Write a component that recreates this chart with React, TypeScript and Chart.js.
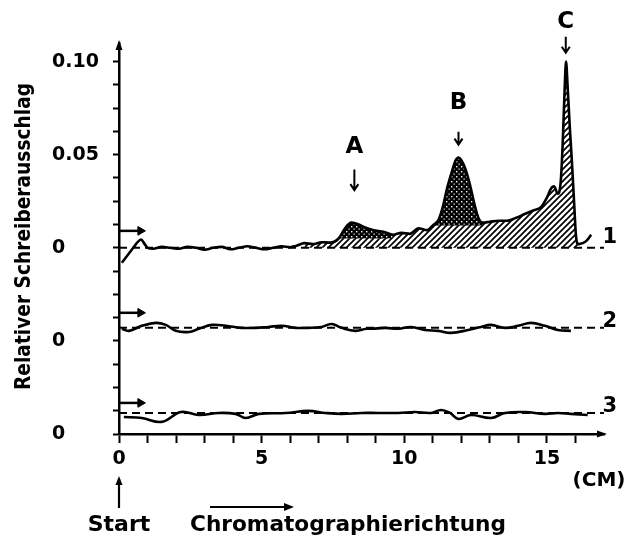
import React, { useEffect, useRef } from 'react';
import { Chart, registerables } from 'chart.js';

Chart.register(...registerables);

const FONT = '"DejaVu Sans", "Liberation Sans", sans-serif';

// Trace 1: sample scan (cm, relative deflection)
const T1_X = [0.1, 0.3, 0.5, 0.65, 0.77, 0.9, 1.0, 1.2, 1.5, 1.8, 2.1, 2.4, 2.7, 3.0, 3.3, 3.6, 3.9, 4.2, 4.5, 4.8, 5.1, 5.4, 5.7, 6.0, 6.2, 6.5, 6.8, 7.1, 7.4, 7.7, 7.9, 8.15, 8.4, 8.6, 8.9, 9.3, 9.6, 9.9, 10.2, 10.5, 10.8, 11.0, 11.2, 11.35, 11.5, 11.65, 11.8, 11.9, 12.0, 12.15, 12.3, 12.45, 12.6, 12.75, 13.0, 13.3, 13.6, 13.9, 14.2, 14.5, 14.8, 15.0, 15.15, 15.25, 15.38, 15.48, 15.55, 15.62, 15.67, 15.72, 15.8, 15.88, 15.96, 16.02, 16.1, 16.25, 16.4, 16.55];
const T1_Y = [-0.008, -0.004, 0.0, 0.003, 0.0045, 0.002, 0.0, -0.0005, 0.0005, 0.0, -0.0005, 0.0005, 0.0, -0.001, 0.0, 0.0005, -0.0008, 0.0, 0.0008, 0.0, -0.0008, 0.0, 0.0008, 0.0003, 0.001, 0.0025, 0.002, 0.003, 0.0028, 0.005, 0.010, 0.0135, 0.0125, 0.011, 0.0095, 0.0085, 0.007, 0.008, 0.0075, 0.0105, 0.0095, 0.012, 0.015, 0.022, 0.032, 0.040, 0.047, 0.0485, 0.047, 0.042, 0.034, 0.024, 0.016, 0.0135, 0.014, 0.0145, 0.0145, 0.016, 0.018, 0.020, 0.022, 0.027, 0.032, 0.033, 0.029, 0.035, 0.055, 0.085, 0.100, 0.088, 0.065, 0.045, 0.022, 0.006, 0.002, 0.0025, 0.004, 0.007];

// Trace 2
const T2_X = [0.1, 0.35, 0.8, 1.29, 1.64, 1.99, 2.45, 2.8, 3.25, 3.74, 4.3, 4.79, 5.24, 5.7, 6.19, 6.64, 7.1, 7.45, 7.8, 8.29, 8.67, 8.85, 9.34, 9.79, 10.24, 10.73, 11.19, 11.64, 12.24, 12.69, 13.04, 13.53, 13.99, 14.44, 14.93, 15.38, 15.84];
const T2_Y = [-0.0435, -0.0446, -0.0419, -0.0403, -0.0414, -0.0446, -0.0452, -0.0435, -0.0414, -0.0419, -0.043, -0.043, -0.0425, -0.0419, -0.043, -0.043, -0.0425, -0.0409, -0.043, -0.0446, -0.0435, -0.0435, -0.043, -0.0435, -0.0425, -0.0441, -0.0446, -0.0457, -0.0441, -0.0425, -0.0414, -0.043, -0.0419, -0.0403, -0.0419, -0.0441, -0.0446];

// Trace 3
const T3_X = [0.17, 0.8, 1.5, 2.17, 2.8, 3.5, 4.09, 4.44, 4.9, 5.84, 6.64, 7.24, 7.8, 8.5, 9.09, 9.79, 10.38, 10.94, 11.29, 11.6, 11.89, 12.34, 13.04, 13.53, 14.23, 14.93, 15.38, 15.84, 16.43];
const T3_Y = [-0.0909, -0.0914, -0.0935, -0.0882, -0.0898, -0.0887, -0.0892, -0.0914, -0.0892, -0.0887, -0.0876, -0.0887, -0.0892, -0.0887, -0.0887, -0.0887, -0.0882, -0.0887, -0.0871, -0.0887, -0.0919, -0.0898, -0.0914, -0.0887, -0.0882, -0.0892, -0.0887, -0.0892, -0.0898];

const TRACE_NAMES = ['1', '2', '3'];
const BASELINES = [0, -0.043, -0.0887];
const BASELINE_END = 17.0;
const NAME_X = 17.2;
const NAME_Y = [0.0054, -0.0398, -0.0855];
const START_MARK_Y = [0.0091, -0.0349, -0.0833];
const START_MARK_X = [0, 0.75];

const HATCH_RANGE = [6.3, 16.1];
const CROSS_RANGES = [[7.6, 9.8], [11.0, 12.75]];
const CROSS_BASES = [0.005, 0.012];

const PEAK_NAMES = ['A', 'B', 'C'];
const PEAK_X = [8.25, 11.9, 15.66];
const PEAK_LABEL_Y = [0.054, 0.078, 0.121];
const PEAK_ARROW_TOP = [0.042, 0.0624, 0.1134];
const PEAK_ARROW_BOTTOM = [0.031, 0.0554, 0.1048];

const Y_TICKS = [-0.1, -0.0875, -0.075, -0.0625, -0.05, -0.0375, -0.025, -0.0125, 0, 0.0125, 0.025, 0.0375, 0.05, 0.0625, 0.075, 0.0875, 0.1];
const Y_LABEL_VALUES = [0.1, 0.05, 0, -0.05, -0.1];
const Y_LABEL_TEXT = ['0.10', '0.05', '0', '0', '0'];
const X_TICKS = [0, 1, 2, 3, 4, 5, 6, 7, 8, 9, 10, 11, 12, 13, 14, 15, 16];
const X_LABEL_VALUES = [0, 5, 10, 15];
const X_LABEL_TEXT = ['0', '5', '10', '15'];

const Y_TITLE = 'Relativer Schreiberausschlag';
const X_UNIT = '(CM)';
const START_TEXT = 'Start';
const DIRECTION_TEXT = 'Chromatographierichtung';

function pts(xs: number[], ys: number[], lo = -Infinity, hi = Infinity) {
  const out: { x: number; y: number }[] = [];
  xs.forEach((x, i) => {
    if (x >= lo && x <= hi) out.push({ x, y: ys[i] });
  });
  return out;
}

function makeHatch(): CanvasPattern | string {
  const c = document.createElement('canvas');
  c.width = 6;
  c.height = 6;
  const g = c.getContext('2d');
  if (!g) return '#888';
  g.fillStyle = '#fff';
  g.fillRect(0, 0, 6, 6);
  g.strokeStyle = '#000';
  g.lineWidth = 1.7;
  g.beginPath();
  g.moveTo(-1, 7);
  g.lineTo(7, -1);
  g.moveTo(-1, 1);
  g.lineTo(1, -1);
  g.moveTo(5, 7);
  g.lineTo(7, 5);
  g.stroke();
  return g.createPattern(c, 'repeat') || '#888';
}

function makeDots(): CanvasPattern | string {
  const c = document.createElement('canvas');
  c.width = 5;
  c.height = 5;
  const g = c.getContext('2d');
  if (!g) return '#222';
  g.fillStyle = '#000';
  g.fillRect(0, 0, 5, 5);
  g.fillStyle = '#fff';
  g.fillRect(1, 1, 1.4, 1.4);
  g.fillRect(3.5, 3.5, 1.2, 1.2);
  return g.createPattern(c, 'repeat') || '#222';
}

function vArrowDown(ctx: CanvasRenderingContext2D, x: number, y0: number, y1: number) {
  ctx.lineWidth = 2;
  ctx.beginPath();
  ctx.moveTo(x, y0);
  ctx.lineTo(x, y1);
  ctx.moveTo(x - 4, y1 - 6);
  ctx.lineTo(x, y1);
  ctx.lineTo(x + 4, y1 - 6);
  ctx.stroke();
}

const decorPlugin = {
  id: 'decor',
  afterDraw(chart: any) {
    const { ctx, chartArea: ca, scales } = chart;
    const xs = scales.x;
    const ys = scales.y;
    ctx.save();
    ctx.fillStyle = '#000';
    ctx.strokeStyle = '#000';

    // axis arrowheads
    ctx.beginPath();
    ctx.moveTo(ca.left, ca.top - 3);
    ctx.lineTo(ca.left - 3.5, ca.top + 7);
    ctx.lineTo(ca.left + 3.5, ca.top + 7);
    ctx.closePath();
    ctx.fill();
    ctx.beginPath();
    ctx.moveTo(ca.right + 3, ca.bottom);
    ctx.lineTo(ca.right - 7, ca.bottom - 3.5);
    ctx.lineTo(ca.right - 7, ca.bottom + 3.5);
    ctx.closePath();
    ctx.fill();

    // peak labels
    ctx.textAlign = 'center';
    ctx.textBaseline = 'middle';
    ctx.font = `bold 23px ${FONT}`;
    PEAK_NAMES.forEach((n, i) => {
      const px = xs.getPixelForValue(PEAK_X[i]);
      ctx.fillText(n, px, ys.getPixelForValue(PEAK_LABEL_Y[i]));
      vArrowDown(ctx, px, ys.getPixelForValue(PEAK_ARROW_TOP[i]), ys.getPixelForValue(PEAK_ARROW_BOTTOM[i]));
    });

    // trace numbers
    ctx.font = `bold 21px ${FONT}`;
    TRACE_NAMES.forEach((n, i) => {
      ctx.fillText(n, xs.getPixelForValue(NAME_X), ys.getPixelForValue(NAME_Y[i]));
    });

    // y axis title
    ctx.save();
    ctx.translate(25, (ca.top + ca.bottom) / 2 - 2);
    ctx.rotate(-Math.PI / 2);
    ctx.font = `bold 21px ${FONT}`;
    ctx.fillText(Y_TITLE, 0, 0, 307);
    ctx.restore();

    // unit
    ctx.font = `bold 20px ${FONT}`;
    ctx.fillText(X_UNIT, ca.right - 5, 481, 54);

    // Start with arrow
    const x0 = xs.getPixelForValue(0);
    ctx.lineWidth = 2.2;
    ctx.beginPath();
    ctx.moveTo(x0, 508);
    ctx.lineTo(x0, 479);
    ctx.stroke();
    ctx.beginPath();
    ctx.moveTo(x0, 476);
    ctx.lineTo(x0 - 3.5, 485);
    ctx.lineTo(x0 + 3.5, 485);
    ctx.closePath();
    ctx.fill();
    ctx.font = `bold 22px ${FONT}`;
    ctx.fillText(START_TEXT, x0, 525, 67);

    // direction arrow and text
    ctx.beginPath();
    ctx.moveTo(210, 507);
    ctx.lineTo(286, 507);
    ctx.stroke();
    ctx.beginPath();
    ctx.moveTo(294, 507);
    ctx.lineTo(284, 503);
    ctx.lineTo(284, 511);
    ctx.closePath();
    ctx.fill();
    ctx.textAlign = 'left';
    ctx.fillText(DIRECTION_TEXT, 190, 525, 316);
    ctx.restore();
  },
};

export default function App() {
  const ref = useRef<HTMLCanvasElement>(null);
  useEffect(() => {
    if (!ref.current) return;
    const hatch = makeHatch();
    const dots = makeDots();
    const traces = [pts(T1_X, T1_Y), pts(T2_X, T2_Y), pts(T3_X, T3_Y)];
    const datasets: any[] = [];
    traces.forEach((d, i) => {
      datasets.push({
        data: d,
        borderColor: '#000',
        borderWidth: 2.6,
        pointRadius: 0,
        fill: false,
        cubicInterpolationMode: i === 0 ? 'monotone' : 'default',
        tension: 0.4,
        order: 0,
      });
    });
    BASELINES.forEach((b) => {
      datasets.push({
        data: [{ x: 0, y: b }, { x: BASELINE_END, y: b }],
        borderColor: '#000',
        borderWidth: 2,
        borderDash: [8, 5],
        pointRadius: 0,
        fill: false,
        order: 1,
      });
    });
    START_MARK_Y.forEach((v) => {
      datasets.push({
        data: START_MARK_X.map((x) => ({ x, y: v })),
        borderColor: '#000',
        borderWidth: 2.5,
        pointRadius: [0, 5],
        pointStyle: 'triangle',
        rotation: 90,
        pointBackgroundColor: '#000',
        pointBorderColor: '#000',
        pointBorderWidth: 1,
        fill: false,
        order: 0,
      });
    });
    datasets.push({
      data: pts(T1_X, T1_Y, HATCH_RANGE[0], HATCH_RANGE[1]),
      borderWidth: 0,
      borderColor: 'rgba(0,0,0,0)',
      backgroundColor: hatch,
      pointRadius: 0,
      cubicInterpolationMode: 'monotone',
      fill: { value: 0 },
      order: 3,
    });
    CROSS_RANGES.forEach((r, i) => {
      datasets.push({
        data: pts(T1_X, T1_Y, r[0], r[1]),
        borderWidth: 0,
        borderColor: 'rgba(0,0,0,0)',
        backgroundColor: dots,
        pointRadius: 0,
        cubicInterpolationMode: 'monotone',
        fill: { value: CROSS_BASES[i] },
        order: 2,
      });
    });

    const chart = new Chart(ref.current, {
      type: 'line',
      data: { datasets },
      options: {
        animation: false,
        responsive: true,
        maintainAspectRatio: false,
        layout: { padding: { left: 52, top: 43, right: 24, bottom: 0 } },
        plugins: { legend: { display: false }, tooltip: { enabled: false } },
        scales: {
          x: {
            type: 'linear',
            min: 0,
            max: 17,
            afterBuildTicks: (s: any) => {
              s.ticks = X_TICKS.map((v) => ({ value: v }));
            },
            afterFit: (s: any) => {
              s.height = 104;
            },
            ticks: {
              autoSkip: false,
              maxRotation: 0,
              padding: 5,
              color: '#000',
              font: { family: FONT, size: 19, weight: 'bold' },
              callback: (v: any) => {
                const k = X_LABEL_VALUES.findIndex((t) => Math.abs(t - Number(v)) < 1e-6);
                return k >= 0 ? X_LABEL_TEXT[k] : '';
              },
            },
            grid: { drawOnChartArea: false, drawTicks: true, tickLength: 9, tickWidth: 2, tickColor: '#000' },
            border: { display: true, color: '#000', width: 2.5 },
          },
          y: {
            type: 'linear',
            min: -0.1,
            max: 0.11,
            afterBuildTicks: (s: any) => {
              s.ticks = Y_TICKS.map((v) => ({ value: v }));
            },
            afterFit: (s: any) => {
              s.width = 67;
            },
            ticks: {
              autoSkip: false,
              crossAlign: 'far',
              color: '#000',
              font: { family: FONT, size: 19, weight: 'bold' },
              callback: (v: any) => {
                const k = Y_LABEL_VALUES.findIndex((t) => Math.abs(t - Number(v)) < 1e-6);
                return k >= 0 ? Y_LABEL_TEXT[k] : '';
              },
            },
            grid: { drawOnChartArea: false, drawTicks: true, tickLength: 6, tickWidth: 2, tickColor: '#000' },
            border: { display: true, color: '#000', width: 2.5 },
          },
        },
      } as any,
      plugins: [decorPlugin],
    });
    return () => chart.destroy();
  }, []);
  return (
    <div style={{ position: 'absolute', left: 0, top: 0, width: 628, height: 538, background: '#fff' }}>
      <canvas ref={ref} />
    </div>
  );
}
